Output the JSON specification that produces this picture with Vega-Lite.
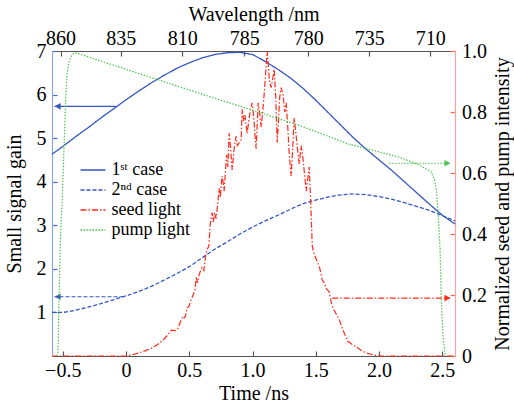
{
  "$schema": "https://vega.github.io/schema/vega-lite/v6.json",
  "width": 403,
  "height": 305,
  "autosize": {"type": "none"},
  "padding": {"left": 52, "top": 51, "right": 59, "bottom": 50},
  "background": "white",
  "datasets": {
    "curves": [
      {"s":"1st case","t":-0.585,"v":4.63},{"s":"1st case","t":-0.5,"v":4.81},{"s":"1st case","t":-0.4,"v":5.03},{"s":"1st case","t":-0.3,"v":5.24},{"s":"1st case","t":-0.2,"v":5.46},{"s":"1st case","t":-0.1,"v":5.67},{"s":"1st case","t":0.0,"v":5.88},{"s":"1st case","t":0.1,"v":6.08},{"s":"1st case","t":0.2,"v":6.27},{"s":"1st case","t":0.3,"v":6.44},{"s":"1st case","t":0.4,"v":6.6},{"s":"1st case","t":0.5,"v":6.73},{"s":"1st case","t":0.6,"v":6.84},{"s":"1st case","t":0.7,"v":6.92},{"s":"1st case","t":0.8,"v":6.96},{"s":"1st case","t":0.9,"v":6.97},{"s":"1st case","t":1.0,"v":6.92},{"s":"1st case","t":1.1,"v":6.76},{"s":"1st case","t":1.2,"v":6.58},{"s":"1st case","t":1.3,"v":6.38},{"s":"1st case","t":1.4,"v":6.14},{"s":"1st case","t":1.5,"v":5.87},{"s":"1st case","t":1.6,"v":5.58},{"s":"1st case","t":1.7,"v":5.29},{"s":"1st case","t":1.8,"v":5.0},{"s":"1st case","t":1.9,"v":4.74},{"s":"1st case","t":2.0,"v":4.5},{"s":"1st case","t":2.1,"v":4.26},{"s":"1st case","t":2.2,"v":4.0},{"s":"1st case","t":2.3,"v":3.74},{"s":"1st case","t":2.4,"v":3.48},{"s":"1st case","t":2.5,"v":3.23},{"s":"1st case","t":2.6,"v":3.03},
      {"s":"2nd case","t":-0.585,"v":1.0},{"s":"2nd case","t":-0.5,"v":1.0},{"s":"2nd case","t":-0.45,"v":1.02},{"s":"2nd case","t":-0.4,"v":1.05},{"s":"2nd case","t":-0.3,"v":1.12},{"s":"2nd case","t":-0.2,"v":1.2},{"s":"2nd case","t":-0.1,"v":1.29},{"s":"2nd case","t":0.0,"v":1.38},{"s":"2nd case","t":0.1,"v":1.48},{"s":"2nd case","t":0.2,"v":1.6},{"s":"2nd case","t":0.3,"v":1.74},{"s":"2nd case","t":0.4,"v":1.89},{"s":"2nd case","t":0.5,"v":2.05},{"s":"2nd case","t":0.6,"v":2.25},{"s":"2nd case","t":0.7,"v":2.45},{"s":"2nd case","t":0.8,"v":2.62},{"s":"2nd case","t":0.9,"v":2.8},{"s":"2nd case","t":1.0,"v":2.96},{"s":"2nd case","t":1.1,"v":3.1},{"s":"2nd case","t":1.2,"v":3.23},{"s":"2nd case","t":1.3,"v":3.37},{"s":"2nd case","t":1.4,"v":3.5},{"s":"2nd case","t":1.5,"v":3.58},{"s":"2nd case","t":1.6,"v":3.65},{"s":"2nd case","t":1.7,"v":3.7},{"s":"2nd case","t":1.8,"v":3.72},{"s":"2nd case","t":1.9,"v":3.7},{"s":"2nd case","t":2.0,"v":3.66},{"s":"2nd case","t":2.1,"v":3.6},{"s":"2nd case","t":2.2,"v":3.52},{"s":"2nd case","t":2.3,"v":3.43},{"s":"2nd case","t":2.4,"v":3.34},{"s":"2nd case","t":2.5,"v":3.22},{"s":"2nd case","t":2.6,"v":3.1},
      {"s":"seed light","t":-0.585,"v":0},{"s":"seed light","t":-0.3,"v":0},{"s":"seed light","t":0.0,"v":0},{"s":"seed light","t":0.05,"v":0.004},{"s":"seed light","t":0.1,"v":0.01},{"s":"seed light","t":0.15,"v":0.017},{"s":"seed light","t":0.2,"v":0.025},{"s":"seed light","t":0.25,"v":0.038},{"s":"seed light","t":0.3,"v":0.055},{"s":"seed light","t":0.33,"v":0.07},{"s":"seed light","t":0.36,"v":0.085},{"s":"seed light","t":0.39,"v":0.083},{"s":"seed light","t":0.41,"v":0.09},{"s":"seed light","t":0.43,"v":0.112},{"s":"seed light","t":0.45,"v":0.13},{"s":"seed light","t":0.46,"v":0.125},{"s":"seed light","t":0.47,"v":0.13},{"s":"seed light","t":0.48,"v":0.155},{"s":"seed light","t":0.5,"v":0.165},{"s":"seed light","t":0.51,"v":0.18},{"s":"seed light","t":0.53,"v":0.2},{"s":"seed light","t":0.545,"v":0.215},{"s":"seed light","t":0.555,"v":0.26},{"s":"seed light","t":0.565,"v":0.24},{"s":"seed light","t":0.58,"v":0.27},{"s":"seed light","t":0.6,"v":0.29},{"s":"seed light","t":0.615,"v":0.28},{"s":"seed light","t":0.63,"v":0.33},{"s":"seed light","t":0.641,"v":0.35},{"s":"seed light","t":0.655,"v":0.36},{"s":"seed light","t":0.665,"v":0.43},{"s":"seed light","t":0.68,"v":0.47},{"s":"seed light","t":0.69,"v":0.44},{"s":"seed light","t":0.7,"v":0.47},{"s":"seed light","t":0.712,"v":0.45},{"s":"seed light","t":0.725,"v":0.5},{"s":"seed light","t":0.736,"v":0.55},{"s":"seed light","t":0.745,"v":0.52},{"s":"seed light","t":0.759,"v":0.59},{"s":"seed light","t":0.767,"v":0.57},{"s":"seed light","t":0.775,"v":0.54},{"s":"seed light","t":0.785,"v":0.6},{"s":"seed light","t":0.795,"v":0.66},{"s":"seed light","t":0.805,"v":0.62},{"s":"seed light","t":0.815,"v":0.73},{"s":"seed light","t":0.825,"v":0.69},{"s":"seed light","t":0.839,"v":0.61},{"s":"seed light","t":0.85,"v":0.66},{"s":"seed light","t":0.86,"v":0.7},{"s":"seed light","t":0.87,"v":0.72},{"s":"seed light","t":0.88,"v":0.69},{"s":"seed light","t":0.895,"v":0.7},{"s":"seed light","t":0.91,"v":0.71},{"s":"seed light","t":0.918,"v":0.81},{"s":"seed light","t":0.93,"v":0.77},{"s":"seed light","t":0.94,"v":0.79},{"s":"seed light","t":0.957,"v":0.73},{"s":"seed light","t":0.967,"v":0.76},{"s":"seed light","t":0.98,"v":0.8},{"s":"seed light","t":0.997,"v":0.83},{"s":"seed light","t":1.01,"v":0.78},{"s":"seed light","t":1.02,"v":0.72},{"s":"seed light","t":1.028,"v":0.68},{"s":"seed light","t":1.036,"v":0.75},{"s":"seed light","t":1.044,"v":0.83},{"s":"seed light","t":1.055,"v":0.8},{"s":"seed light","t":1.068,"v":0.75},{"s":"seed light","t":1.08,"v":0.8},{"s":"seed light","t":1.092,"v":0.86},{"s":"seed light","t":1.104,"v":0.93},{"s":"seed light","t":1.116,"v":1.0},{"s":"seed light","t":1.125,"v":0.95},{"s":"seed light","t":1.135,"v":0.9},{"s":"seed light","t":1.147,"v":0.88},{"s":"seed light","t":1.16,"v":0.91},{"s":"seed light","t":1.171,"v":0.94},{"s":"seed light","t":1.183,"v":0.85},{"s":"seed light","t":1.195,"v":0.7},{"s":"seed light","t":1.205,"v":0.77},{"s":"seed light","t":1.215,"v":0.85},{"s":"seed light","t":1.226,"v":0.88},{"s":"seed light","t":1.24,"v":0.86},{"s":"seed light","t":1.255,"v":0.8},{"s":"seed light","t":1.266,"v":0.83},{"s":"seed light","t":1.28,"v":0.74},{"s":"seed light","t":1.29,"v":0.66},{"s":"seed light","t":1.305,"v":0.59},{"s":"seed light","t":1.317,"v":0.68},{"s":"seed light","t":1.329,"v":0.78},{"s":"seed light","t":1.34,"v":0.74},{"s":"seed light","t":1.355,"v":0.68},{"s":"seed light","t":1.369,"v":0.63},{"s":"seed light","t":1.384,"v":0.69},{"s":"seed light","t":1.395,"v":0.66},{"s":"seed light","t":1.41,"v":0.6},{"s":"seed light","t":1.424,"v":0.54},{"s":"seed light","t":1.436,"v":0.58},{"s":"seed light","t":1.448,"v":0.62},{"s":"seed light","t":1.46,"v":0.5},{"s":"seed light","t":1.472,"v":0.36},{"s":"seed light","t":1.49,"v":0.33},{"s":"seed light","t":1.511,"v":0.31},{"s":"seed light","t":1.53,"v":0.29},{"s":"seed light","t":1.55,"v":0.25},{"s":"seed light","t":1.566,"v":0.24},{"s":"seed light","t":1.585,"v":0.22},{"s":"seed light","t":1.606,"v":0.21},{"s":"seed light","t":1.625,"v":0.17},{"s":"seed light","t":1.645,"v":0.15},{"s":"seed light","t":1.665,"v":0.135},{"s":"seed light","t":1.685,"v":0.12},{"s":"seed light","t":1.71,"v":0.09},{"s":"seed light","t":1.73,"v":0.07},{"s":"seed light","t":1.748,"v":0.05},{"s":"seed light","t":1.78,"v":0.04},{"s":"seed light","t":1.82,"v":0.03},{"s":"seed light","t":1.86,"v":0.018},{"s":"seed light","t":1.9,"v":0.01},{"s":"seed light","t":1.95,"v":0.004},{"s":"seed light","t":2.0,"v":0},{"s":"seed light","t":2.6,"v":0},
      {"s":"pump light","t":-0.545,"v":0},{"s":"pump light","t":-0.538,"v":0.01},{"s":"pump light","t":-0.53,"v":0.18},{"s":"pump light","t":-0.517,"v":0.4},{"s":"pump light","t":-0.504,"v":0.51},{"s":"pump light","t":-0.491,"v":0.675},{"s":"pump light","t":-0.477,"v":0.84},{"s":"pump light","t":-0.465,"v":0.93},{"s":"pump light","t":-0.45,"v":0.965},{"s":"pump light","t":-0.43,"v":0.985},{"s":"pump light","t":-0.41,"v":0.993},{"s":"pump light","t":-0.388,"v":0.993},{"s":"pump light","t":-0.3,"v":0.981},{"s":"pump light","t":0.0,"v":0.94},{"s":"pump light","t":0.22,"v":0.91},{"s":"pump light","t":0.68,"v":0.848},{"s":"pump light","t":1.0,"v":0.806},{"s":"pump light","t":1.37,"v":0.756},{"s":"pump light","t":1.76,"v":0.695},{"s":"pump light","t":2.16,"v":0.652},{"s":"pump light","t":2.32,"v":0.626},{"s":"pump light","t":2.41,"v":0.604},{"s":"pump light","t":2.437,"v":0.58},{"s":"pump light","t":2.453,"v":0.544},{"s":"pump light","t":2.468,"v":0.457},{"s":"pump light","t":2.482,"v":0.35},{"s":"pump light","t":2.492,"v":0.18},{"s":"pump light","t":2.508,"v":0.05},{"s":"pump light","t":2.524,"v":0}
    ],
    "arrows": [
      {"s":"1st case","t":-0.08,"t2":-0.565,"v":5.73,"hx":-0.54},
      {"s":"2nd case","t":-0.02,"t2":-0.565,"v":1.36,"hx":-0.54},
      {"s":"seed light","t":1.63,"t2":2.56,"v":0.19,"hx":2.54},
      {"s":"pump light","t":2.08,"t2":2.56,"v":0.632,"hx":2.54}
    ],
    "topticks": [
      {"t":-0.517},{"t":-0.042},{"t":0.445},{"t":0.934},{"t":1.441},{"t":1.922},{"t":2.405}
    ]
  },
  "layer": [
    {
      "layer": [
        {
          "data": {"name": "curves"},
          "transform": [{"filter": "datum.s == '1st case' || datum.s == '2nd case'"}],
          "mark": {"type": "line", "strokeWidth": 1.3},
          "encoding": {
            "x": {"field": "t", "type": "quantitative", "scale": {"domain": [-0.585, 2.6], "nice": false, "zero": false},
              "axis": {"orient": "bottom", "title": "Time /ns", "values": [-0.5, 0, 0.5, 1, 1.5, 2, 2.5],
                "labelExpr": "datum.value == 0 ? '0' : format(datum.value, '.1f')",
                "tickSize": -5, "labelPadding": 25.5, "labelBaseline": "alphabetic", "labelFlush": false, "domainColor": "#555555", "tickColor": "#555555",
                "titleY": 43.5, "titleBaseline": "alphabetic"}},
            "y": {"field": "v", "type": "quantitative", "scale": {"domain": [0, 7], "nice": false},
              "axis": {"orient": "left", "title": "Small signal gain", "values": [1, 2, 3, 4, 5, 6, 7],
                "tickSize": -5, "labelPadding": 11, "domainColor": "#8ea6e6", "tickColor": "#4a6bd0",
                "titleAngle": 270, "titleX": -32, "titleBaseline": "alphabetic", "labelFlush": false}},
            "color": {"field": "s", "type": "nominal",
              "scale": {"domain": ["1st case", "2nd case", "seed light", "pump light"], "range": ["#3557c0", "#3557c0", "#ff2a1a", "#4cc44c"]},
              "legend": {"title": null, "labelExpr": "datum.label == '1st case' ? '1ˢᵗ case' : datum.label == '2nd case' ? '2ⁿᵈ case' : datum.label"}},
            "strokeDash": {"field": "s", "type": "nominal",
              "scale": {"domain": ["1st case", "2nd case", "seed light", "pump light"], "range": [[1, 0], [4, 2], [6, 2, 1.5, 2], [1.5, 1.5]]},
              "legend": {"title": null, "labelExpr": "datum.label == '1st case' ? '1ˢᵗ case' : datum.label == '2nd case' ? '2ⁿᵈ case' : datum.label"}}
          }
        },
        {
          "data": {"name": "arrows"},
          "transform": [{"filter": "datum.s == '1st case' || datum.s == '2nd case'"}],
          "mark": {"type": "rule", "strokeWidth": 1.2},
          "encoding": {
            "x": {"field": "t", "type": "quantitative", "scale": {"domain": [-0.585, 2.6], "nice": false, "zero": false}},
            "x2": {"field": "t2"},
            "y": {"field": "v", "type": "quantitative", "scale": {"domain": [0, 7], "nice": false}},
            "stroke": {"field": "s", "type": "nominal", "scale": {"domain": ["1st case", "2nd case", "seed light", "pump light"], "range": ["#3557c0", "#3557c0", "#ff2a1a", "#4cc44c"]}, "legend": null},
            "strokeDash": {"field": "s", "type": "nominal"}
          }
        },
        {
          "data": {"name": "arrows"},
          "transform": [{"filter": "datum.s == '1st case' || datum.s == '2nd case'"}],
          "mark": {"type": "point", "shape": "triangle-left", "filled": true, "size": 45, "opacity": 1},
          "encoding": {
            "x": {"field": "hx", "type": "quantitative", "scale": {"domain": [-0.585, 2.6], "nice": false, "zero": false}},
            "y": {"field": "v", "type": "quantitative", "scale": {"domain": [0, 7], "nice": false}},
            "fill": {"field": "s", "type": "nominal", "scale": {"domain": ["1st case", "2nd case", "seed light", "pump light"], "range": ["#3557c0", "#3557c0", "#ff2a1a", "#4cc44c"]}, "legend": null}
          }
        }
      ]
    },
    {
      "layer": [
        {
          "data": {"name": "curves"},
          "transform": [{"filter": "datum.s == 'seed light' || datum.s == 'pump light'"}],
          "mark": {"type": "line", "strokeWidth": 1.2},
          "encoding": {
            "x": {"field": "t", "type": "quantitative", "scale": {"domain": [-0.585, 2.6], "nice": false, "zero": false}, "axis": null},
            "y": {"field": "v", "type": "quantitative", "scale": {"domain": [0, 1], "nice": false},
              "axis": {"orient": "right", "title": "Normalized seed and pump intensity", "values": [0, 0.1, 0.2, 0.3, 0.4, 0.5, 0.6, 0.7, 0.8, 0.9, 1.0],
                "labelExpr": "datum.value == 0 ? '0' : format(datum.value, '.1f')",
                "tickSize": -5, "labelPadding": 11.5, "domainColor": "#f5a3a3", "tickColor": "#f06a5a",
                "titleAngle": 270, "titleX": 53.5, "titleBaseline": "alphabetic", "labelFlush": false}},
            "color": {"field": "s", "type": "nominal"},
            "strokeDash": {"field": "s", "type": "nominal"},
            "order": {"field": "t", "type": "quantitative"}
          }
        },
        {
          "data": {"name": "arrows"},
          "transform": [{"filter": "datum.s == 'seed light' || datum.s == 'pump light'"}],
          "mark": {"type": "rule", "strokeWidth": 1.2},
          "encoding": {
            "x": {"field": "t", "type": "quantitative", "scale": {"domain": [-0.585, 2.6], "nice": false, "zero": false}, "axis": null},
            "x2": {"field": "t2"},
            "y": {"field": "v", "type": "quantitative", "scale": {"domain": [0, 1], "nice": false}},
            "stroke": {"field": "s", "type": "nominal", "legend": null},
            "strokeDash": {"field": "s", "type": "nominal"}
          }
        },
        {
          "data": {"name": "arrows"},
          "transform": [{"filter": "datum.s == 'seed light' || datum.s == 'pump light'"}],
          "mark": {"type": "point", "shape": "triangle-right", "filled": true, "size": 45, "opacity": 1},
          "encoding": {
            "x": {"field": "hx", "type": "quantitative", "scale": {"domain": [-0.585, 2.6], "nice": false, "zero": false}, "axis": null},
            "y": {"field": "v", "type": "quantitative", "scale": {"domain": [0, 1], "nice": false}},
            "fill": {"field": "s", "type": "nominal", "legend": null}
          }
        }
      ]
    },
    {
      "data": {"name": "topticks"},
      "mark": {"type": "rule", "opacity": 0},
      "encoding": {
        "x": {"field": "t", "type": "quantitative", "scale": {"domain": [-0.585, 2.6], "nice": false, "zero": false},
          "axis": {"orient": "top", "title": "Wavelength /nm", "values": [-0.517, -0.042, 0.445, 0.934, 1.441, 1.922, 2.405],
            "labelExpr": "datum.value < -0.3 ? '860' : datum.value < 0.2 ? '835' : datum.value < 0.7 ? '810' : datum.value < 1.2 ? '785' : datum.value < 1.7 ? '780' : datum.value < 2.2 ? '735' : '710'",
            "tickSize": -5, "labelPadding": 11.5, "labelBaseline": "alphabetic", "labelFlush": false,
            "domainColor": "#555555", "tickColor": "#555555", "titleY": -30.5, "titleBaseline": "alphabetic"}}
      }
    }
  ],
  "resolve": {"scale": {"y": "independent"}, "axis": {"x": "independent"}},
  "config": {
    "view": {"stroke": null},
    "font": "Liberation Serif",
    "axis": {"labelFont": "Liberation Serif", "titleFont": "Liberation Serif", "labelFontSize": 20, "titleFontSize": 20,
      "labelColor": "#000000", "titleColor": "#000000", "titleFontWeight": "normal", "grid": false, "domainWidth": 1.2, "tickWidth": 1.2},
    "legend": {"orient": "none", "legendX": 30, "legendY": 108, "symbolType": "M-1.25,0H1.25", "symbolSize": 400, "symbolStrokeWidth": 1.4,
      "rowPadding": 0, "labelOffset": 7.5, "labelFontSize": 18, "labelFont": "Liberation Serif", "labelColor": "#000000", "padding": 0, "labelLimit": 300}
  }
}
